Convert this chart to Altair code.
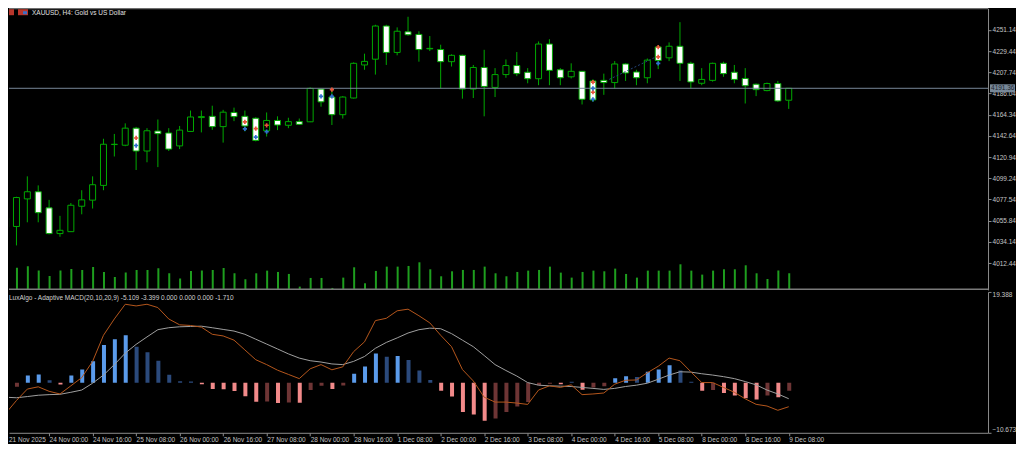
import json
import altair as alt
import pandas as pd

# ---------------- data ----------------
opens = [4058.61, 4049.93, 4078.14, 4085.44, 4068.96, 4042.63, 4044.60, 4070.64, 4076.86, 4091.95,
         4133.77, 4133.08, 4150.54, 4127.16, 4147.58, 4145.60, 4132.39, 4147.18, 4161.39, 4162.67,
         4152.11, 4166.61, 4162.67, 4160.70, 4147.87, 4158.43, 4153.50, 4157.24, 4157.05, 4190.58,
         4182.40, 4164.35, 4181.41, 4215.24, 4221.16, 4255.09, 4228.06, 4249.17, 4246.51, 4232.21,
         4231.02, 4218.60, 4225.10, 4190.58, 4212.68, 4192.26, 4205.38, 4214.65, 4207.75, 4201.14,
         4236.65, 4210.31, 4203.11, 4208.73, 4198.87, 4199.46, 4197.19, 4216.23, 4208.04, 4202.12,
         4233.69, 4222.54, 4234.38, 4216.92, 4196.50, 4199.46, 4216.92, 4207.75, 4201.43, 4195.51,
         4189.00, 4196.20, 4179.14]
highs = [4062.06, 4080.31, 4101.22, 4091.95, 4077.15, 4060.78, 4073.90, 4087.02, 4101.22, 4139.69,
         4144.62, 4155.47, 4151.82, 4150.54, 4159.41, 4150.54, 4152.80, 4168.59, 4168.59, 4173.52,
         4169.28, 4171.55, 4168.59, 4161.68, 4166.61, 4162.67, 4161.19, 4160.40, 4192.26, 4191.27,
         4191.27, 4183.38, 4217.90, 4226.78, 4256.37, 4256.37, 4253.71, 4264.56, 4249.76, 4244.83,
         4235.96, 4226.09, 4225.80, 4215.24, 4230.73, 4211.99, 4220.86, 4228.46, 4211.99, 4239.31,
         4241.58, 4211.99, 4216.92, 4209.03, 4200.64, 4206.36, 4219.19, 4216.92, 4210.31, 4221.85,
         4234.97, 4238.32, 4259.04, 4218.60, 4211.99, 4217.61, 4218.60, 4215.24, 4211.99, 4196.20,
         4197.19, 4198.87, 4191.36]
lows = [4046.28, 4030.50, 4054.17, 4054.17, 4041.84, 4039.37, 4044.31, 4062.36, 4068.27, 4087.02,
        4121.54, 4132.09, 4107.73, 4115.62, 4110.69, 4127.16, 4129.13, 4146.89, 4146.20, 4148.86,
        4135.74, 4157.74, 4147.18, 4137.02, 4141.96, 4148.56, 4150.54, 4153.79, 4156.75, 4172.53,
        4153.79, 4160.40, 4180.92, 4210.31, 4205.38, 4215.24, 4225.10, 4245.23, 4218.60, 4229.45,
        4191.27, 4213.66, 4180.72, 4181.41, 4162.67, 4182.40, 4202.12, 4203.80, 4196.50, 4194.53,
        4194.53, 4194.53, 4201.43, 4174.80, 4177.46, 4184.66, 4191.27, 4198.87, 4194.53, 4196.50,
        4211.00, 4219.19, 4198.87, 4191.27, 4194.53, 4198.18, 4203.11, 4196.50, 4175.79, 4183.38,
        4188.31, 4177.46, 4170.26]
closes = [4049.24, 4079.52, 4085.44, 4064.03, 4042.63, 4045.98, 4071.63, 4077.15, 4092.64, 4134.06,
          4134.06, 4150.54, 4127.16, 4147.87, 4144.91, 4129.13, 4148.56, 4161.98, 4162.37, 4152.11,
          4166.91, 4162.37, 4152.80, 4138.01, 4158.43, 4153.79, 4157.24, 4154.48, 4191.27, 4177.46,
          4164.35, 4182.40, 4216.92, 4218.89, 4255.09, 4228.06, 4249.76, 4246.21, 4231.02, 4231.71,
          4218.60, 4225.10, 4190.58, 4212.68, 4193.25, 4205.38, 4214.65, 4206.36, 4201.14, 4236.65,
          4209.72, 4202.12, 4208.73, 4180.13, 4179.44, 4197.19, 4216.23, 4207.05, 4202.12, 4220.17,
          4219.88, 4234.38, 4216.92, 4197.88, 4200.45, 4216.92, 4206.36, 4200.45, 4193.94, 4189.99,
          4196.20, 4178.45, 4191.36]
tick_volume_k = [59, 64, 68, 55, 39, 55, 60, 57, 66, 51, 36, 49, 57, 57, 62, 47, 31, 54, 55, 57,
                 63, 47, 29, 47, 55, 51, 45, 7, 33, 33, 3, 34, 65, 17, 54, 67, 67, 69, 80, 59,
                 38, 53, 57, 57, 67, 47, 38, 51, 55, 57, 67, 49, 34, 51, 55, 53, 61, 45, 34, 55,
                 55, 55, 74, 55, 43, 55, 59, 59, 71, 47, 30, 55, 47]

macd_hist = [-0.30, -0.86, 1.58, 1.79, 0.54, -0.36, 1.58, 2.83, 4.57, 8.05,
             9.30, 10.14, 7.70, 6.52, 4.71, 1.72, 0.33, 0.25, -0.30, -1.34,
             -1.40, -1.76, -2.87, -4.06, -4.00, -4.33, -4.20, -4.28, -1.55, -0.65,
             -1.34, -0.57, 1.93, 3.46, 6.24, 5.55, 5.69, 4.86, 2.62, 0.60,
             -1.70, -2.95, -6.21, -6.77, -8.09, -7.61, -6.21, -5.04, -4.12, -0.51,
             -0.23, -0.30, 0.20, -1.48, -0.99, -0.72, 0.95, 1.37, 1.23, 2.35,
             2.83, 3.73, 2.62, 0.20, -1.70, -1.55, -2.18, -2.74, -3.28, -3.57,
             -2.74, -3.08, -1.71]
hist_state = ["dn-", "up-", "up+", "up+", "dn+", "dn-", "up+", "up+", "up+", "up+",
              "up+", "up+", "dn+", "dn+", "dn+", "dn+", "dn+", "dn+", "dn-", "dn-",
              "dn-", "dn-", "dn-", "dn-", "up-", "dn-", "up-", "dn-", "up-", "up-",
              "dn-", "up-", "up+", "up+", "up+", "dn+", "up+", "dn+", "dn+", "dn+",
              "dn-", "dn-", "dn-", "dn-", "dn-", "up-", "up-", "up-", "up-", "up-",
              "up-", "dn-", "dn+", "dn-", "up-", "up-", "up+", "up+", "dn+", "up+",
              "up+", "up+", "dn+", "dn+", "dn-", "up-", "dn-", "dn-", "dn-", "dn-",
              "up-", "dn-", "up-"]
macd_line = [-6.56, -3.78, -1.34, -0.86, -1.82, -2.39, -0.65, 1.10, 4.57, 10.14,
             13.62, 16.76, 16.40, 16.76, 16.05, 13.62, 12.37, 12.23, 11.88, 10.35,
             10.00, 9.10, 7.01, 4.92, 3.88, 2.69, 1.79, 0.89, 2.98, 3.88,
             2.77, 3.40, 6.65, 8.74, 13.27, 13.76, 15.36, 15.71, 14.31, 12.79,
             10.14, 7.70, 2.83, 0.39, -3.08, -4.12, -4.12, -4.33, -4.62, -1.55,
             -0.65, -0.99, -0.44, -2.53, -2.39, -2.18, -0.30, 0.54, 0.60, 2.14,
             3.52, 5.27, 4.71, 2.35, 0.05, 0.05, -0.99, -2.03, -3.43, -4.60,
             -4.96, -5.87, -5.109]
signal_line = [-3.08, -3.20, -2.94, -2.66, -2.53, -2.46, -2.03, -1.55, -0.09, 1.65,
               3.88, 6.32, 8.20, 9.79, 11.33, 11.75, 11.95, 12.02, 12.08, 11.75,
               11.39, 11.04, 10.35, 9.30, 8.26, 7.22, 6.17, 5.27, 4.71, 4.43,
               4.02, 3.88, 4.57, 5.61, 7.36, 8.61, 9.58, 10.62, 11.33, 11.66,
               11.54, 10.49, 9.10, 7.70, 5.82, 3.88, 2.62, 1.44, 0.05, -0.51,
               -0.65, -0.72, -0.79, -0.99, -1.20, -1.41, -1.20, -0.79, -0.51, -0.09,
               0.75, 1.65, 2.35, 2.28, 1.93, 1.65, 1.31, 0.89, 0.26, -0.44,
               -1.55, -2.39, -3.399]

time_label_pos = [0, 4, 8, 12, 16, 20, 24, 28, 32, 36, 40, 44, 48, 52, 56, 60, 64, 68, 72]
time_labels = ["21 Nov 2025", "24 Nov 00:00", "24 Nov 16:00", "25 Nov 08:00", "26 Nov 00:00",
               "26 Nov 16:00", "27 Nov 08:00", "28 Nov 00:00", "28 Nov 16:00", "1 Dec 08:00",
               "2 Dec 00:00", "2 Dec 16:00", "3 Dec 08:00", "4 Dec 00:00", "4 Dec 16:00",
               "5 Dec 08:00", "8 Dec 00:00", "8 Dec 16:00", "9 Dec 08:00"]
price_ticks = [4251.14, 4229.44, 4207.74, 4186.04, 4164.34, 4142.64, 4120.94, 4099.24,
               4077.54, 4055.84, 4034.14, 4012.44]
macd_ticks = [19.388, -10.673]
bid_price = 4191.36

signal_bar = [12, 12, 22, 22, 23, 23, 24, 24, 29, 30, 30, 54, 54, 54, 54, 60, 60, 60]
signal_price = [4140.48, 4132.78, 4157.05, 4149.85, 4150.14, 4141.27, 4153.50, 4146.89, 4183.09,
                4189.99, 4183.09, 4197.69, 4187.33, 4191.27, 4180.13, 4233.39, 4223.53, 4216.92]
signal_kind = ["sell", "buy", "sell", "buy", "sell", "buy", "sell", "buy", "buy",
               "sell", "buy", "sell", "sell", "buy", "buy", "sell", "sell", "buy"]
trend_bar = [55.5, 59.8]
trend_price = [4200.45, 4223.53]

title_text = "XAUUSD, H4:  Gold vs US Dollar"
macd_title = "LuxAlgo - Adaptive MACD(20,10,20,9) -5.109 -3.399 0.000 0.000 0.000 -1.710"

# ---------------- tables ----------------
n = len(opens)
bars = pd.DataFrame({
    "i": list(range(n)), "open": opens, "high": highs, "low": lows, "close": closes,
    "vol": tick_volume_k, "hist": macd_hist, "state": hist_state,
    "macd": macd_line, "signal": signal_line,
})
bars["dir"] = ["bull" if c >= o else "bear" for o, c in zip(opens, closes)]
sig = pd.DataFrame({"i": signal_bar, "price": signal_price, "kind": signal_kind})
trend = pd.DataFrame({"i": trend_bar, "price": trend_price})
bid = pd.DataFrame({"price": [bid_price], "label": [f"{bid_price:.2f}"]})

# ---------------- layout constants ----------------
W = 980
PRICE_H = 282
MACD_H = 141
FONT = "Liberation Sans"
GREEN = "#00AA00"
BORDER = "#8C8C8C"
TXT = "#C4C4C4"

xscale = alt.Scale(domain=[8.5 / 11, (W + 8.5) / 11], nice=False, zero=False)
pscale = alt.Scale(domain=[3990.06, 4268.21], nice=False, zero=False)
vscale = alt.Scale(domain=[-3, 843], nice=False, zero=False)
mscale = alt.Scale(domain=[-10.673, 19.388], nice=False, zero=False)

price_axis = alt.Axis(orient="right", values=price_ticks, format=".2f", title=None,
                      tickSize=3, labelPadding=1, labelFlush=False, domainColor=BORDER,
                      tickColor=BORDER, labelColor=TXT, labelFont=FONT, labelFontSize=6.5,
                      grid=False)
X_none = alt.X("i:Q", scale=xscale, axis=None)

base = alt.Chart(bars)

wicks = base.mark_rule(color=GREEN, strokeWidth=1, clip=True).encode(
    x=X_none,
    y=alt.Y("low:Q", scale=pscale, axis=price_axis),
    y2="high:Q",
)
bodies = base.mark_bar(width=6, stroke=GREEN, strokeWidth=1, clip=True).encode(
    x=X_none,
    y=alt.Y("open:Q", scale=pscale, axis=price_axis),
    y2="close:Q",
    fill=alt.Fill("dir:N", scale=alt.Scale(domain=["bull", "bear"], range=["#000000", "#FFFFFF"]),
                  legend=None),
)
bid_line = alt.Chart(bid).mark_rule(color="#778899", strokeWidth=1).encode(
    x=alt.value(0), x2=alt.value(W),
    y=alt.Y("price:Q", scale=pscale, axis=price_axis),
)
bid_box = alt.Chart(bid).mark_bar(color="#778899", size=8).encode(
    x=alt.value(W + 2), x2=alt.value(W + 27),
    y=alt.Y("price:Q", scale=pscale, axis=price_axis),
)
bid_text = alt.Chart(bid).mark_text(align="left", baseline="middle", font=FONT, fontSize=6.5,
                                    color="#1E252D").encode(
    x=alt.value(W + 3),
    y=alt.Y("price:Q", scale=pscale, axis=price_axis),
    text="label:N",
)
trend_line = alt.Chart(trend).mark_line(color="#24457A", strokeWidth=1, strokeDash=[2, 2],
                                        clip=True).encode(
    x=X_none, y=alt.Y("price:Q", scale=pscale, axis=price_axis),
)
sig_pts = alt.Chart(sig).mark_point(shape="cross", filled=True, size=18, opacity=1,
                                    clip=True).encode(
    x=X_none,
    y=alt.Y("price:Q", scale=pscale, axis=price_axis),
    color=alt.Color("kind:N", scale=alt.Scale(domain=["sell", "buy"],
                                              range=["#E8553B", "#2F6FCC"]), legend=None),
)
volume = base.mark_bar(width=2, xOffset=0.5, color="#1E9E1E", clip=True).encode(
    x=X_none,
    y=alt.Y("vol:Q", scale=vscale, axis=None),
    y2=alt.datum(0),
)
top_border = alt.Chart(bid).mark_rule(color=BORDER, strokeWidth=1).encode(
    x=alt.value(0), x2=alt.value(W), y=alt.value(0.5))
separator = alt.Chart(bid).mark_rule(color="#7A7A7A", strokeWidth=1.5).encode(
    x=alt.value(0), x2=alt.value(W), y=alt.value(PRICE_H - 0.75))
title = alt.Chart(bid).mark_text(text=title_text, align="left", baseline="middle", font=FONT,
                                 fontSize=6.5, color="#E0E0E0").encode(
    x=alt.value(23), y=alt.value(4.5))
icon1 = alt.Chart(bid).mark_rect(color="#B8362C").encode(
    x=alt.value(0), x2=alt.value(5), y=alt.value(1), y2=alt.value(7))
icon2 = alt.Chart(bid).mark_rect(color="#B8362C").encode(
    x=alt.value(9), x2=alt.value(19), y=alt.value(1), y2=alt.value(7))
icon2b = alt.Chart(bid).mark_rect(color="#3C6FC4").encode(
    x=alt.value(14), x2=alt.value(18), y=alt.value(3), y2=alt.value(6))

price_candles = alt.layer(wicks, bodies, bid_line, trend_line, sig_pts, bid_box, bid_text)
price_panel = alt.layer(
    price_candles, volume, top_border, separator, title, icon1, icon2, icon2b
).resolve_scale(y="independent").properties(width=W, height=PRICE_H)

# ---------------- MACD panel ----------------
label_expr = json.dumps(time_labels) + "[round(datum.value / 4)]"
x_axis = alt.Axis(values=time_label_pos[1:], labelExpr=label_expr, title=None, tickSize=3,
                  labelPadding=1, labelAlign="left", labelBaseline="top", labelFlush=False,
                  labelOverlap=False, domainColor=BORDER, tickColor=BORDER, labelColor=TXT,
                  labelFont=FONT, labelFontSize=6.5, grid=False)
macd_axis = alt.Axis(orient="right", values=macd_ticks, format=".3f", title=None, tickSize=3,
                     labelPadding=1, labelFlush=True, domainColor=BORDER, tickColor=BORDER,
                     labelColor=TXT, labelFont=FONT, labelFontSize=6.5, grid=False)
X_macd = alt.X("i:Q", scale=xscale, axis=x_axis)

hist_bars = base.mark_bar(width=4, xOffset=0.5, clip=True).encode(
    x=X_macd,
    y=alt.Y("hist:Q", scale=mscale, axis=macd_axis),
    y2=alt.datum(0),
    color=alt.Color("state:N", scale=alt.Scale(domain=["up+", "dn+", "dn-", "up-"],
                                               range=["#5B9BEB", "#2B4A7C", "#F28A8A", "#6E3535"]),
                    legend=None),
)
sig_line = base.mark_line(color="#A0A0A0", strokeWidth=1, clip=True).encode(
    x=X_macd, y=alt.Y("signal:Q", scale=mscale, axis=macd_axis))
macd_l = base.mark_line(color="#B5561C", strokeWidth=1, clip=True).encode(
    x=X_macd, y=alt.Y("macd:Q", scale=mscale, axis=macd_axis))
macd_title_mark = alt.Chart(bid).mark_text(text=macd_title, align="left", baseline="middle",
                                           font=FONT, fontSize=6.5, color="#D0D0D0").encode(
    x=alt.value(0), y=alt.value(6))
first_label = alt.Chart(bid).mark_text(text=time_labels[0], align="left", baseline="top",
                                       font=FONT, fontSize=6.5, color=TXT).encode(
    x=alt.value(0), y=alt.value(MACD_H + 4))

macd_panel = alt.layer(hist_bars, sig_line, macd_l, macd_title_mark, first_label).properties(
    width=W, height=MACD_H)

chart = alt.vconcat(price_panel, macd_panel, spacing=1).resolve_scale(
    color="independent", fill="independent"
).properties(
    background="#000000", padding=0
).configure_view(strokeWidth=0)

chart.save("out.html", embed_options={"renderer": "svg", "actions": False})
